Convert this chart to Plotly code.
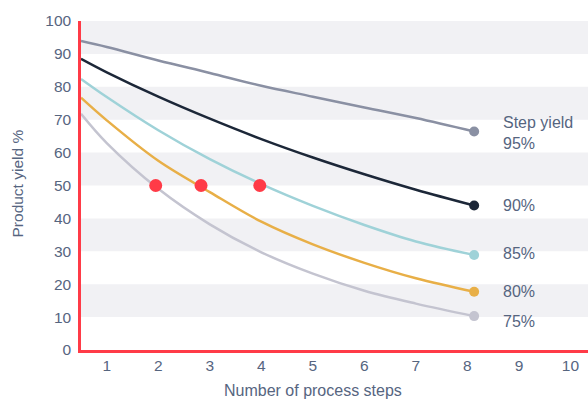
import plotly.graph_objects as go

# Number of process steps at which each curve is sampled
steps = [0.5, 1, 2, 3, 4, 5, 6, 7, 8.13]

# Overall product yield (%) for each per-step yield
yield_95 = [93.9, 92.1, 88.0, 84.2, 80.3, 77.0, 73.7, 70.5, 66.4]
yield_90 = [88.5, 84.4, 77.0, 70.3, 64.1, 58.5, 53.4, 48.7, 43.9]
yield_85 = [82.4, 76.9, 66.8, 58.0, 50.4, 43.8, 38.0, 33.0, 28.9]
yield_80 = [76.7, 69.8, 57.5, 48.0, 39.0, 32.1, 26.5, 21.8, 17.7]
yield_75 = [71.8, 62.9, 49.0, 38.2, 29.7, 23.2, 18.0, 14.1, 10.3]

series_labels = ["Step yield<br>95%", "90%", "85%", "80%", "75%"]
label_y = [66.0, 43.8, 29.2, 17.9, 8.8]

# Points where the yield drops to 50 %
half_x = [1.95, 2.83, 3.97]
half_y = [50, 50, 50]

x_ticks = [1, 2, 3, 4, 5, 6, 7, 8, 9, 10]
y_ticks = [0, 10, 20, 30, 40, 50, 60, 70, 80, 90, 100]

colors = ["#8a90a3", "#1c2738", "#9fd2d8", "#e8af47", "#c4c4d0"]
text_color = "#56657f"
red = "#ff3b47"
font_family = "Liberation Sans, Arial, sans-serif"

fig = go.Figure()

for ys, c in zip([yield_95, yield_90, yield_85, yield_80, yield_75], colors):
    fig.add_trace(go.Scatter(
        x=steps, y=ys, mode="lines",
        line=dict(color=c, width=2.5, shape="spline", smoothing=1.0),
        hoverinfo="skip", showlegend=False,
    ))
    fig.add_trace(go.Scatter(
        x=[steps[-1]], y=[ys[-1]], mode="markers",
        marker=dict(color=c, size=10),
        hoverinfo="skip", showlegend=False,
    ))

fig.add_trace(go.Scatter(
    x=half_x, y=half_y, mode="markers",
    marker=dict(color=red, size=13),
    hoverinfo="skip", showlegend=False,
))

# Alternating horizontal bands
shapes = []
for lo in [10, 30, 50, 70, 90]:
    shapes.append(dict(
        type="rect", xref="paper", yref="y", x0=0, x1=1, y0=lo, y1=lo + 10,
        fillcolor="#f1f1f4", line=dict(width=0), layer="below",
    ))

annotations = []
for lbl, ly in zip(series_labels, label_y):
    annotations.append(dict(
        x=8.65, y=ly, xref="x", yref="y", text=lbl, showarrow=False,
        xanchor="left", yanchor="middle", align="left",
        font=dict(size=16, color=text_color, family=font_family),
    ))

# Axis titles
annotations.append(dict(
    x=0.4576, y=-0.1246, xref="paper", yref="paper",
    text="Number of process steps", showarrow=False,
    xanchor="center", yanchor="middle",
    font=dict(size=16, color=text_color, family=font_family),
))
annotations.append(dict(
    x=-0.1233, y=0.5076, xref="paper", yref="paper",
    text="Product yield %", showarrow=False, textangle=-90,
    xanchor="center", yanchor="middle",
    font=dict(size=15.5, color=text_color, family=font_family),
))

fig.update_layout(
    width=588, height=401,
    margin=dict(l=81, r=0, t=21, b=51),
    paper_bgcolor="white", plot_bgcolor="white",
    shapes=shapes,
    annotations=annotations,
    font=dict(family=font_family, color=text_color, size=15.5),
    xaxis=dict(
        range=[0.5, 10.34], tickvals=x_ticks, showgrid=False, zeroline=False,
        showline=True, linecolor=red, linewidth=2.5,
        tickfont=dict(size=15.5, color=text_color),
    ),
    yaxis=dict(
        range=[0, 100], tickvals=y_ticks, showgrid=False, zeroline=False,
        showline=True, linecolor=red, linewidth=2.5,
        tickfont=dict(size=15.5, color=text_color),
        ticklabelstandoff=4,
    ),
)

fig.write_html("out.html")
